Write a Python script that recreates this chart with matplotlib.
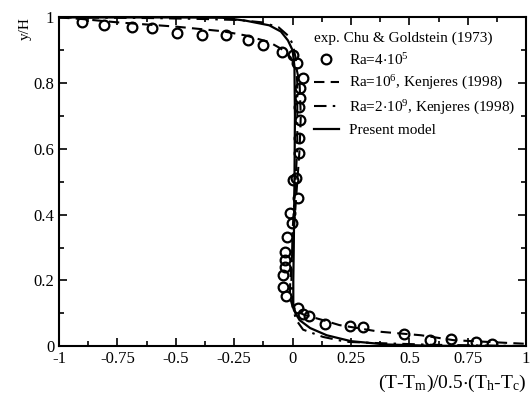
import numpy as np
import matplotlib
matplotlib.use('Agg')
import matplotlib.pyplot as plt
from matplotlib.ticker import MultipleLocator, FormatStrFormatter

plt.rcParams['font.family'] = ['Liberation Serif', 'DejaVu Serif']
plt.rcParams['mathtext.default'] = 'regular'

# experimental data, Chu & Goldstein (1973), Ra = 4e5
exp_x = [-0.903, -0.806, -0.686, -0.600, -0.496, -0.386, -0.286, -0.192, -0.125, -0.046, 0.003,
         0.018, 0.046, 0.032, 0.032, 0.029, 0.032, 0.029, 0.029, 0.015,
         0.003, 0.025, -0.011, -0.003, -0.025, -0.032, -0.032, -0.032, -0.042, -0.042, -0.028,
         0.025, 0.045, 0.070, 0.140, 0.245, 0.300, 0.475, 0.590, 0.680, 0.785, 0.855]
exp_y = [0.987, 0.977, 0.972, 0.967, 0.952, 0.947, 0.947, 0.932, 0.916, 0.896, 0.886,
         0.861, 0.815, 0.784, 0.754, 0.728, 0.688, 0.632, 0.587, 0.511,
         0.505, 0.450, 0.404, 0.374, 0.333, 0.287, 0.262, 0.241, 0.216, 0.181, 0.152,
         0.115, 0.097, 0.093, 0.068, 0.062, 0.059, 0.037, 0.020, 0.021, 0.011, 0.007]

# Ra = 1e6, Kenjeres (1998)
ra6_x = [-1.0, -0.9, -0.75, -0.5, -0.3, -0.2, -0.1, -0.05, -0.01, 0.015, 0.03, 0.035, 0.03,
         0.02, 0.01, 0.0, -0.01, -0.012, 0.0, 0.02, 0.05, 0.13, 0.2, 0.37, 0.55, 0.69, 0.94, 1.0]
ra6_y = [1.0, 0.995, 0.985, 0.972, 0.958, 0.945, 0.925, 0.905, 0.88, 0.85, 0.8, 0.7, 0.6,
         0.5, 0.4, 0.3, 0.2, 0.15, 0.12, 0.105, 0.095, 0.079, 0.064, 0.044, 0.033, 0.018, 0.009, 0.007]

# Ra = 2e9, Kenjeres (1998)
ra9_x = [-1.0, -0.6, -0.37, -0.23, -0.13, -0.06, -0.02, 0.0, 0.012, 0.02, 0.02, 0.012, 0.0,
         -0.005, 0.0, 0.015, 0.045, 0.13, 0.23, 0.37, 0.6, 1.0]
ra9_y = [1.0, 0.998, 0.995, 0.992, 0.985, 0.97, 0.945, 0.92, 0.88, 0.8, 0.6, 0.5, 0.35,
         0.2, 0.12, 0.08, 0.05, 0.028, 0.013, 0.009, 0.004, 0.0]

# present model
model_x = [-1.0, -0.5, -0.3, -0.2, -0.1, -0.05, -0.02, 0.0, 0.008, 0.01, 0.008,
           0.005, 0.003, 0.003, 0.012, 0.03, 0.075, 0.146, 0.25, 0.4, 0.6, 1.0]
model_y = [1.0, 1.0, 0.999, 0.99, 0.976, 0.957, 0.93, 0.9, 0.85, 0.7, 0.5,
           0.3, 0.2, 0.13, 0.1, 0.079, 0.055, 0.033, 0.015, 0.005, 0.001, 0.0]

fig = plt.figure(figsize=(5.32, 3.96), dpi=100)
ax = fig.add_axes([0.111, 0.126, 0.878, 0.830])

ax.plot(ra6_x, ra6_y, color='black', lw=1.5, ls=(0, (5, 3)),
        label=r'Ra=10$^6$, Kenjeres (1998)')
ax.plot(ra9_x, ra9_y, color='black', lw=1.5, ls=(0, (6, 3, 1.2, 3)),
        label=r'Ra=2$\cdot$10$^9$, Kenjeres (1998)')
ax.plot(model_x, model_y, color='black', lw=1.6, label='Present model')
ax.plot(exp_x, exp_y, ls='none', marker='o', ms=7, mfc='none', mec='black', mew=1.6,
        label=r'Ra=4$\cdot$10$^5$')

ax.set_xlim(-1, 1)
ax.set_ylim(0, 1)
ax.xaxis.set_major_locator(MultipleLocator(0.25))
ax.xaxis.set_minor_locator(MultipleLocator(0.125))
ax.yaxis.set_major_locator(MultipleLocator(0.2))
ax.yaxis.set_minor_locator(MultipleLocator(0.1))
ax.xaxis.set_major_formatter(FormatStrFormatter('%g'))
ax.yaxis.set_major_formatter(FormatStrFormatter('%g'))
ax.tick_params(which='both', direction='in', top=True, right=True, labelsize=12, width=1.2)
ax.tick_params(which='major', length=6)
ax.tick_params(which='minor', length=3.5)
for s in ax.spines.values():
    s.set_linewidth(1.5)

ax.set_xlabel(r'(T-T$_m$)/0.5$\cdot$(T$_h$-T$_c$)', fontsize=14, loc='right', labelpad=4)
ax.set_ylabel('y/H', fontsize=11, loc='top', labelpad=1)

h, l = ax.get_legend_handles_labels()
order = [3, 0, 1, 2]
leg = ax.legend([h[i] for i in order], [l[i] for i in order], title='exp. Chu & Goldstein (1973)',
                loc='upper right', frameon=False, fontsize=11, title_fontsize=11,
                handlelength=1.6, handletextpad=0.65, labelspacing=0.42,
                borderaxespad=0.3, bbox_to_anchor=(0.9986, 0.989))
leg._legend_box.align = 'left'

fig.savefig('out.png', dpi=100)
